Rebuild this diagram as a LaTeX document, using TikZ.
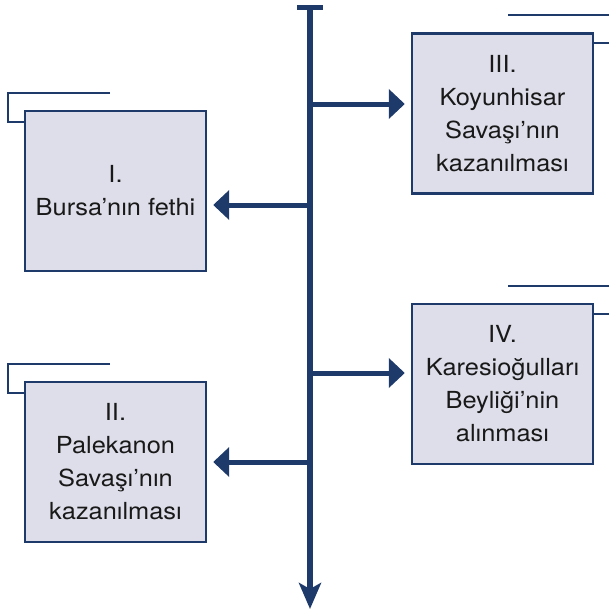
\documentclass[tikz,border=0pt]{standalone}
\usepackage{fontspec}
\setmainfont{TeX Gyre Heros}[FakeStretch=1.08]
\usetikzlibrary{arrows.meta}
\definecolor{navy}{HTML}{1E3A6B}
\definecolor{boxfill}{HTML}{DDDEE9}
\begin{document}
\begin{tikzpicture}[x=1pt,y=-1pt,
  evbox/.style={draw=navy,line width=2.4pt,fill=boxfill,minimum width=181pt,minimum height=160pt,
    inner sep=0pt,align=center,font=\fontsize{23.5}{33}\selectfont,text=black!90},
  spine/.style={navy,line width=5.5pt},
  sidearrow/.style={navy,line width=5pt,-{Triangle[length=16pt,width=29pt]}},
  bracket/.style={navy,line width=2.6pt}]
\clip (0,0) rectangle (609,613);
\useasboundingbox (0,0) rectangle (609,613);
% spine
\coordinate (top) at (310,7.5);
\coordinate (bot) at (310,609);
\coordinate (p1) at (310,205);
\coordinate (p2) at (310,462);
\coordinate (p3) at (310,104);
\coordinate (p4) at (310,373);
\draw[navy,line width=5pt] (297,7.5) -- (322.5,7.5);
\draw[spine,-{Stealth[length=26pt,width=22pt,inset=6pt]}] (top) -- (bot);
% boxes
\node[evbox] (b1) at (115.5,191) {I.\\Bursa’nın fethi};
\node[evbox] (b2) at (115.5,462) {II.\\Palekanon\\Savaşı’nın\\kazanılması};
\node[evbox] (b3) at (502.5,113.5) {III.\\Koyunhisar\\Savaşı’nın\\kazanılması};
\node[evbox] (b4) at (502.5,384) {IV.\\Karesioğulları\\Beyliği’nin\\alınması};
% brackets
\draw[bracket] (110,93) -- (8,93) -- (8,122) -- (b1.north west |- 0,122);
\draw[bracket] (110,364) -- (8,364) -- (8,393) -- (b2.north west |- 0,393);
\draw[bracket] (508,15) -- (626,15) -- (626,43) -- (b3.north east |- 0,43);
\draw[bracket] (508,286) -- (626,286) -- (626,314) -- (b4.north east |- 0,314);
% arrows
\draw[sidearrow] (p1) -- ([xshift=6pt]b1.east |- p1);
\draw[sidearrow] (p2) -- ([xshift=6pt]b2.east |- p2);
\draw[sidearrow] (p3) -- ([xshift=-6pt]b3.west |- p3);
\draw[sidearrow] (p4) -- ([xshift=-6pt]b4.west |- p4);
\end{tikzpicture}
\end{document}
